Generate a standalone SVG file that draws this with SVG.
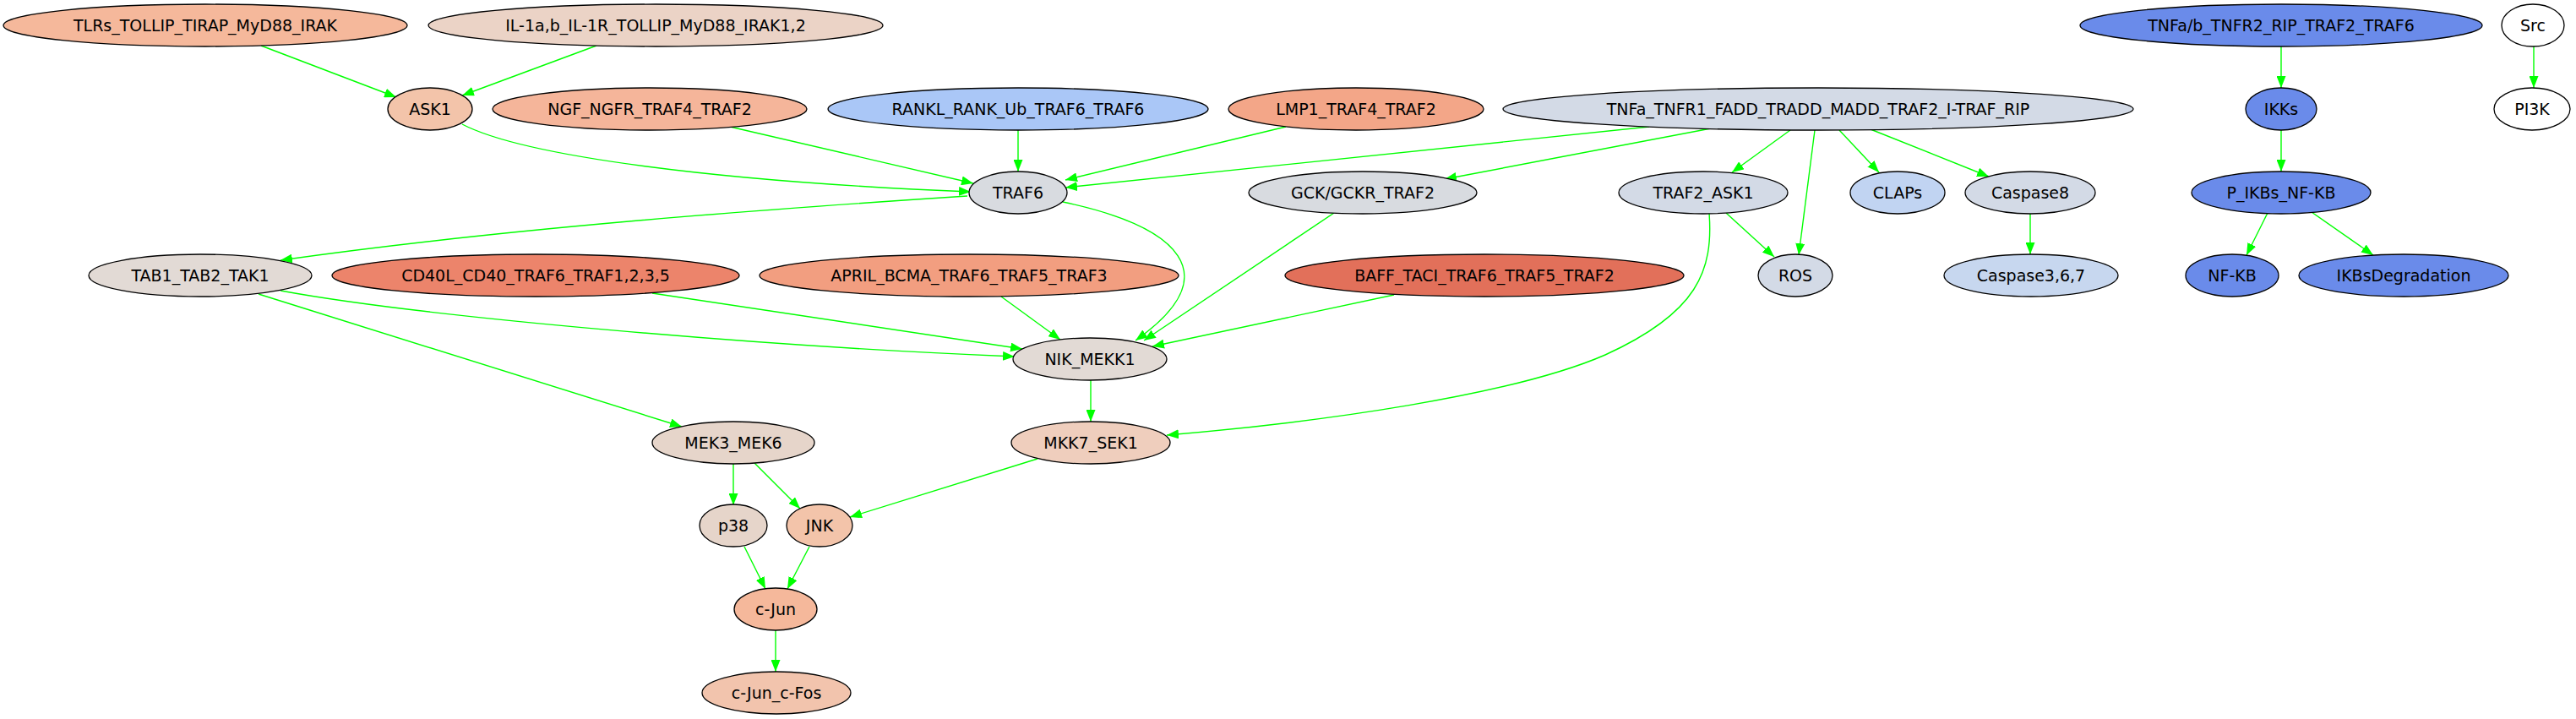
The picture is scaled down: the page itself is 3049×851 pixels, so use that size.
<svg xmlns="http://www.w3.org/2000/svg" width="3049" height="851" viewBox="0 0 3049 851">
<style>
.n ellipse{stroke:#000;stroke-width:1.3}
.n text{font-family:"DejaVu Sans",sans-serif;font-size:19px;fill:#000;text-anchor:middle}
#edges path{fill:none;stroke:#00ff00;stroke-width:1.4;marker-end:url(#ah)}
</style>
<defs>
<marker id="ah" markerUnits="userSpaceOnUse" markerWidth="15" markerHeight="11" refX="14" refY="5.5" orient="auto">
<path d="M0,0 L14,5.5 L0,11 z" fill="#00ff00"/>
</marker>
</defs>
<rect width="3049" height="851" fill="#fff"/>
<g id="edges">
<path d="M309,54 L469,115"/>
<path d="M706,54 L547,113"/>
<path d="M547,147 C620,185 850,215 1149,227"/>
<path d="M864,150 L1152,217"/>
<path d="M1205,154 L1205,203"/>
<path d="M1522,150 L1261,213"/>
<path d="M1952,150 L1261,222"/>
<path d="M2025,152 L1710,212"/>
<path d="M2119,154 L2050,204"/>
<path d="M2148,154 L2129,302"/>
<path d="M2177,154 L2224,204"/>
<path d="M2214,153 L2354,209"/>
<path d="M2700,55 L2700,104"/>
<path d="M2999,55 L2999,104"/>
<path d="M2700,154 L2700,203"/>
<path d="M2403,252 L2403,301"/>
<path d="M2684,252 L2659,302"/>
<path d="M2736,251 L2809,302"/>
<path d="M2043,252 L2100,304"/>
<path d="M2023,252 C2028,320 2010,370 1900,420 C1790,468 1560,500 1381,515"/>
<path d="M1145,232 C900,248 600,270 332,308"/>
<path d="M1258,239 C1395,268 1455,325 1344,403"/>
<path d="M1579,252 L1354,403"/>
<path d="M332,344 C500,375 900,410 1201,422"/>
<path d="M772,347 L1210,413"/>
<path d="M1185,351 L1255,402"/>
<path d="M1650,349 L1364,410"/>
<path d="M1291,450 L1291,499"/>
<path d="M306,348 L807,505"/>
<path d="M868,548 L868,598"/>
<path d="M893,548 L947,602"/>
<path d="M1228,543 L1006,612"/>
<path d="M881,647 L906,697"/>
<path d="M958,647 L932,697"/>
<path d="M918,746 L918,795"/>
</g>
<g id="TLRs" class="n"><ellipse cx="243" cy="30" rx="239" ry="25" fill="#f5b89b"/><text x="243" y="37">TLRs_TOLLIP_TIRAP_MyD88_IRAK</text></g>
<g id="IL1" class="n"><ellipse cx="776" cy="30" rx="269" ry="25" fill="#ebd3c6"/><text x="776" y="37">IL-1a,b_IL-1R_TOLLIP_MyD88_IRAK1,2</text></g>
<g id="TNFR2" class="n"><ellipse cx="2700" cy="30" rx="238" ry="25" fill="#6a8bea"/><text x="2700" y="37">TNFa/b_TNFR2_RIP_TRAF2_TRAF6</text></g>
<g id="Src" class="n"><ellipse cx="2998" cy="30" rx="37" ry="25" fill="#fff"/><text x="2998" y="37">Src</text></g>
<g id="ASK1" class="n"><ellipse cx="509" cy="129" rx="50" ry="25" fill="#f3c4aa"/><text x="509" y="136">ASK1</text></g>
<g id="NGF" class="n"><ellipse cx="769" cy="129" rx="186" ry="25" fill="#f5b59a"/><text x="769" y="136">NGF_NGFR_TRAF4_TRAF2</text></g>
<g id="RANKL" class="n"><ellipse cx="1205" cy="129" rx="225" ry="25" fill="#aac7f7"/><text x="1205" y="136">RANKL_RANK_Ub_TRAF6_TRAF6</text></g>
<g id="LMP1" class="n"><ellipse cx="1605" cy="129" rx="151" ry="25" fill="#f3a688"/><text x="1605" y="136">LMP1_TRAF4_TRAF2</text></g>
<g id="TNFR1" class="n"><ellipse cx="2152" cy="129" rx="373" ry="25" fill="#d3dae6"/><text x="2152" y="136">TNFa_TNFR1_FADD_TRADD_MADD_TRAF2_I-TRAF_RIP</text></g>
<g id="IKKs" class="n"><ellipse cx="2700" cy="129" rx="42" ry="25" fill="#6a8bea"/><text x="2700" y="136">IKKs</text></g>
<g id="PI3K" class="n"><ellipse cx="2997" cy="129" rx="45" ry="25" fill="#fff"/><text x="2997" y="136">PI3K</text></g>
<g id="TRAF6" class="n"><ellipse cx="1205" cy="228" rx="58" ry="25" fill="#d8dbe0"/><text x="1205" y="235">TRAF6</text></g>
<g id="GCK" class="n"><ellipse cx="1613" cy="228" rx="135" ry="25" fill="#d8dbe0"/><text x="1613" y="235">GCK/GCKR_TRAF2</text></g>
<g id="TRAF2_ASK1" class="n"><ellipse cx="2016" cy="228" rx="100" ry="25" fill="#d3dae6"/><text x="2016" y="235">TRAF2_ASK1</text></g>
<g id="CLAPs" class="n"><ellipse cx="2246" cy="228" rx="56" ry="25" fill="#c1d4f2"/><text x="2246" y="235">CLAPs</text></g>
<g id="Caspase8" class="n"><ellipse cx="2403" cy="228" rx="77" ry="25" fill="#d3dae6"/><text x="2403" y="235">Caspase8</text></g>
<g id="P_IKBs" class="n"><ellipse cx="2700" cy="228" rx="106" ry="25" fill="#6a8bea"/><text x="2700" y="235">P_IKBs_NF-KB</text></g>
<g id="TAB1" class="n"><ellipse cx="237" cy="326" rx="132" ry="25" fill="#e2dad5"/><text x="237" y="333">TAB1_TAB2_TAK1</text></g>
<g id="CD40L" class="n"><ellipse cx="634" cy="326" rx="241" ry="25" fill="#ec846b"/><text x="634" y="333">CD40L_CD40_TRAF6_TRAF1,2,3,5</text></g>
<g id="APRIL" class="n"><ellipse cx="1147" cy="326" rx="248" ry="25" fill="#f29e80"/><text x="1147" y="333">APRIL_BCMA_TRAF6_TRAF5_TRAF3</text></g>
<g id="BAFF" class="n"><ellipse cx="1757" cy="326" rx="236" ry="25" fill="#e2705a"/><text x="1757" y="333">BAFF_TACI_TRAF6_TRAF5_TRAF2</text></g>
<g id="ROS" class="n"><ellipse cx="2125" cy="326" rx="44" ry="25" fill="#d3dae6"/><text x="2125" y="333">ROS</text></g>
<g id="Caspase3" class="n"><ellipse cx="2404" cy="326" rx="103" ry="25" fill="#c7d7ef"/><text x="2404" y="333">Caspase3,6,7</text></g>
<g id="NFKB" class="n"><ellipse cx="2642" cy="326" rx="55" ry="25" fill="#6a8bea"/><text x="2642" y="333">NF-KB</text></g>
<g id="IKBsDeg" class="n"><ellipse cx="2845" cy="326" rx="124" ry="25" fill="#6a8bea"/><text x="2845" y="333">IKBsDegradation</text></g>
<g id="NIK" class="n"><ellipse cx="1290" cy="425" rx="91" ry="25" fill="#e2dad5"/><text x="1290" y="432">NIK_MEKK1</text></g>
<g id="MEK3" class="n"><ellipse cx="868" cy="524" rx="96" ry="25" fill="#e6d5ca"/><text x="868" y="531">MEK3_MEK6</text></g>
<g id="MKK7" class="n"><ellipse cx="1291" cy="524" rx="94" ry="25" fill="#efcebd"/><text x="1291" y="531">MKK7_SEK1</text></g>
<g id="p38" class="n"><ellipse cx="868" cy="622" rx="40" ry="25" fill="#e6d5ca"/><text x="868" y="629">p38</text></g>
<g id="JNK" class="n"><ellipse cx="970" cy="622" rx="39" ry="25" fill="#f3c4aa"/><text x="970" y="629">JNK</text></g>
<g id="cJun" class="n"><ellipse cx="918" cy="721" rx="49" ry="25" fill="#f5b89b"/><text x="918" y="728">c-Jun</text></g>
<g id="cJun_cFos" class="n"><ellipse cx="919" cy="820" rx="88" ry="25" fill="#f2c4ad"/><text x="919" y="827">c-Jun_c-Fos</text></g>
</svg>
